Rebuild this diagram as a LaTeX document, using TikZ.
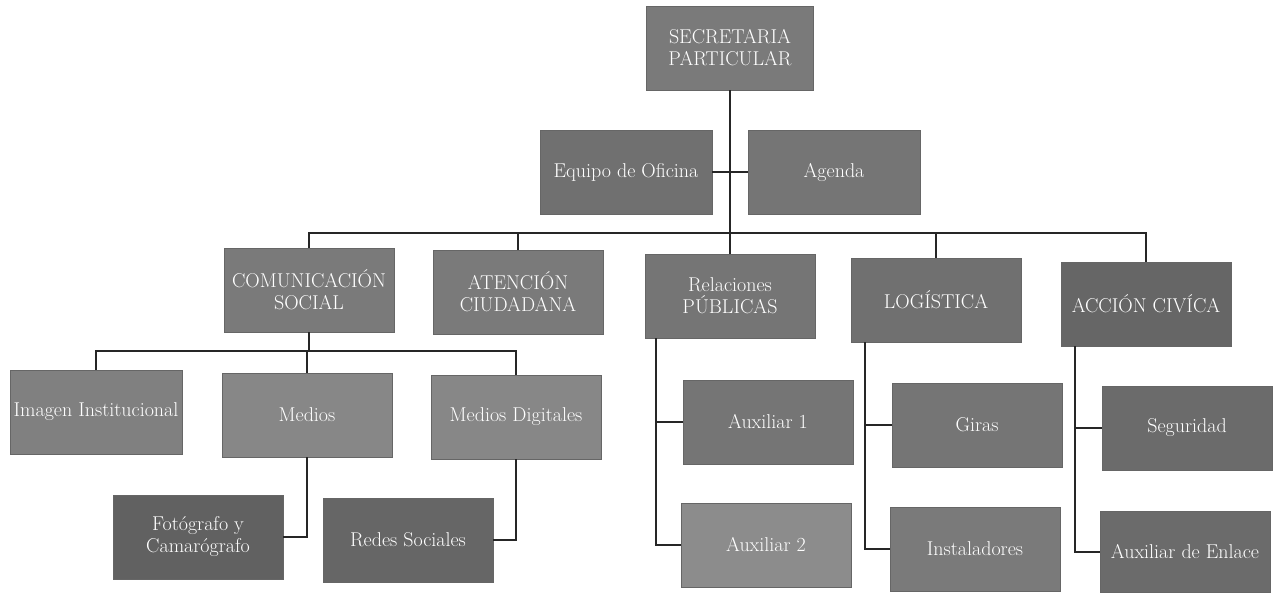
\documentclass[tikz,border=0pt]{standalone}
\begin{document}
\begin{tikzpicture}[x=1pt,y=-1pt,
  box/.style={rectangle, draw=black!60, line width=0.8pt, text=white,
    minimum width=170pt, minimum height=84pt, inner sep=1pt, align=center,
    font=\fontsize{20}{22}\selectfont},
  conn/.style={line width=1.6pt, draw=black!85}]
\path[fill=white,use as bounding box] (0,0) rectangle (1279,594);
% top
\node[box, fill=black!52, minimum width=167pt] (sec) at (730,48) {SECRETARIA\\PARTICULAR};
\node[box, fill=black!56, minimum width=172pt] (equipo) at (626,172) {Equipo de Oficina};
\node[box, fill=black!54, minimum width=172pt] (agenda) at (834,172) {Agenda};
% level 2
\node[box, fill=black!52] (com) at (309,290) {COMUNICACIÓN\\SOCIAL};
\node[box, fill=black!52] (aten) at (518,292) {ATENCIÓN\\CIUDADANA};
\node[box, fill=black!54] (rel) at (730,296) {Relaciones\\PÚBLICAS};
\node[box, fill=black!56] (log) at (936,300) {LOGÍSTICA};
\node[box, fill=black!60] (acc) at (1146,304) {ACCIÓN CIVÍCA};
% level 3
\node[box, fill=black!50, minimum width=172pt] (imagen) at (96,412) {Imagen Institucional};
\node[box, fill=black!47] (medios) at (307,415) {Medios};
\node[box, fill=black!47] (mdig) at (516,417) {Medios Digitales};
\node[box, fill=black!62] (foto) at (198,537) {Fotógrafo y\\Camarógrafo};
\node[box, fill=black!60] (redes) at (408,540) {Redes Sociales};
\node[box, fill=black!54] (aux1) at (768,422) {Auxiliar 1};
\node[box, fill=black!45] (aux2) at (766,545) {Auxiliar 2};
\node[box, fill=black!54] (giras) at (977,425) {Giras};
\node[box, fill=black!52] (inst) at (975,549) {Instaladores};
\node[box, fill=black!58] (seg) at (1187,428) {Seguridad};
\node[box, fill=black!58, minimum height=81pt] (enlace) at (1185,552) {Auxiliar de Enlace};
% connectors
\coordinate (busY) at (0,233);
\coordinate (subY) at (0,351);
\draw[conn] (sec.south) -- (rel.north);
\draw[conn] (equipo.east) -- (agenda.west);
\draw[conn] (com.north) -- (com.north |- busY) -- (acc.north |- busY) -- (acc.north);
\draw[conn] (aten.north) -- (aten.north |- busY);
\draw[conn] (log.north) -- (log.north |- busY);
\draw[conn] (com.south) -- (com.south |- subY);
\draw[conn] (imagen.north) -- (imagen.north |- subY) -- (mdig.north |- subY) -- (mdig.north);
\draw[conn] (medios.north) -- (medios.north |- subY);
\draw[conn] (medios.south) |- (foto.east);
\draw[conn] (mdig.south) |- (redes.east);
\coordinate (relbr) at ([xshift=-74pt]rel.south);
\coordinate (logbr) at ([xshift=-71pt]log.south);
\coordinate (accbr) at ([xshift=-71pt]acc.south);
\draw[conn] (relbr) |- (aux2.west);
\draw[conn] (aux1.west) -- (aux1.west -| relbr);
\draw[conn] (logbr) |- (inst.west);
\draw[conn] (giras.west) -- (giras.west -| logbr);
\draw[conn] (accbr) |- (enlace.west);
\draw[conn] (seg.west) -- (seg.west -| accbr);
\end{tikzpicture}
\end{document}
